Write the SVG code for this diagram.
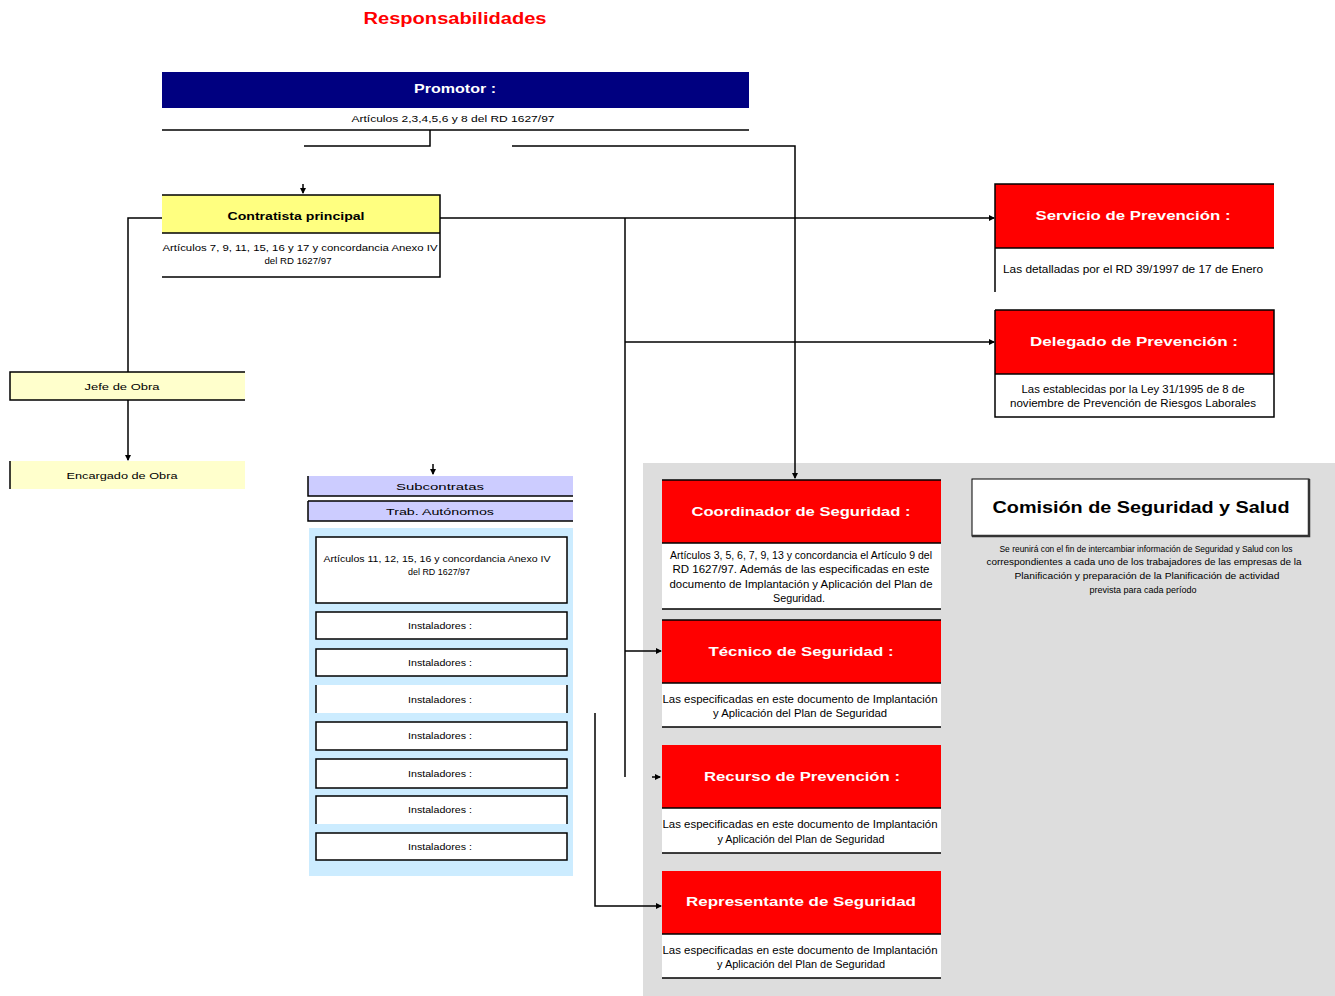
<svg xmlns="http://www.w3.org/2000/svg" width="1335" height="996" viewBox="0 0 1335 996">
  <style>
    text { font-family: "Liberation Sans", Arial, sans-serif; }
    .title { font-size: 16px; font-weight: bold; fill: #FF0000; text-anchor: middle; }
    .hdr { font-size: 13px; font-weight: bold; fill: #FFFFFF; text-anchor: middle; }
    .hdrk { font-size: 11px; font-weight: bold; fill: #000000; text-anchor: middle; }
    .body { font-size: 10px; fill: #000000; text-anchor: middle; }
    .small { font-size: 9.5px; fill: #000000; text-anchor: middle; }
    .red { fill: #FF0000; }
    .line { stroke: #000000; stroke-width: 1.5; fill: none; }
    .conn { stroke: #000000; stroke-width: 1.5; fill: none; }
  </style>
  <defs>
    <marker id="arrow" markerWidth="6" markerHeight="6" refX="5" refY="3" orient="auto" markerUnits="userSpaceOnUse">
      <path d="M0,0 L6,3 L0,6 z" fill="#000000"/>
    </marker>
  </defs>

  <rect x="0" y="0" width="1335" height="996" fill="#FFFFFF"/>

  <!-- grey area holding the site safety roles -->
  <rect x="643" y="463" width="692" height="533" fill="#DDDDDD"/>

  <text class="title" x="455" y="24" textLength="183" lengthAdjust="spacingAndGlyphs">Responsabilidades</text>

  <!-- connectors -->
  <g id="connectors">
    <path class="conn" d="M430,130 V146 H304"/>
    <path class="conn" d="M303,184 V193" marker-end="url(#arrow)"/>
    <path class="conn" d="M512,146 H795 V478" marker-end="url(#arrow)"/>
    <path class="conn" d="M440,218 H994" marker-end="url(#arrow)"/>
    <path class="conn" d="M625,218 V777"/>
    <path class="conn" d="M625,342 H994" marker-end="url(#arrow)"/>
    <path class="conn" d="M625,651 H661" marker-end="url(#arrow)"/>
    <path class="conn" d="M652,777 H660" marker-end="url(#arrow)"/>
    <path class="conn" d="M162,218 H128 V372"/>
    <path class="conn" d="M128,400 V460" marker-end="url(#arrow)"/>
    <path class="conn" d="M433,464 V474" marker-end="url(#arrow)"/>
    <path class="conn" d="M595,713 V906 H661" marker-end="url(#arrow)"/>
  </g>

  <!-- Promotor -->
  <g id="promotor">
    <rect x="162" y="72" width="587" height="36" fill="#000080"/>
    <text class="hdr" x="455" y="93" textLength="82" lengthAdjust="spacingAndGlyphs">Promotor :</text>
    <text class="small" x="453" y="122" textLength="203" lengthAdjust="spacingAndGlyphs">Artículos 2,3,4,5,6 y 8 del RD 1627/97</text>
    <line class="line" x1="162" y1="130" x2="749" y2="130"/>
  </g>

  <!-- Contratista principal -->
  <g id="contratista">
    <rect x="162" y="195" width="278" height="38" fill="#FFFF80"/>
    <path class="line" d="M162,195 H440 V277 H162"/>
    <line class="line" x1="162" y1="233" x2="440" y2="233"/>
    <text class="hdrk" x="296" y="220" textLength="137" lengthAdjust="spacingAndGlyphs">Contratista principal</text>
    <text class="small" x="300" y="251" textLength="275" lengthAdjust="spacingAndGlyphs">Artículos 7, 9, 11, 15, 16 y 17 y concordancia Anexo IV</text>
    <text class="small" x="298" y="264" textLength="67" lengthAdjust="spacingAndGlyphs">del RD 1627/97</text>
  </g>

  <!-- Jefe de Obra -->
  <g id="jefe-obra">
    <rect x="10" y="372" width="235" height="28" fill="#FFFFCC"/>
    <path class="line" d="M245,372 H10 V400 H245"/>
    <text class="small" x="122" y="390" textLength="75" lengthAdjust="spacingAndGlyphs">Jefe de Obra</text>
  </g>

  <!-- Encargado de Obra -->
  <g id="encargado-obra">
    <rect x="10" y="461" width="235" height="28" fill="#FFFFCC"/>
    <line class="line" x1="10" y1="461" x2="10" y2="489"/>
    <text class="small" x="122" y="479" textLength="111" lengthAdjust="spacingAndGlyphs">Encargado de Obra</text>
  </g>

  <!-- Servicio de Prevención -->
  <g id="servicio-prevencion">
    <rect x="995" y="184" width="279" height="64" class="red"/>
    <path class="line" d="M995,292 V184 H1274"/>
    <line class="line" x1="995" y1="248" x2="1274" y2="248"/>
    <text class="hdr" x="1133" y="220" textLength="195" lengthAdjust="spacingAndGlyphs">Servicio de Prevención :</text>
    <text class="body" x="1133" y="273" textLength="260" lengthAdjust="spacingAndGlyphs">Las detalladas por el RD 39/1997 de 17 de Enero</text>
  </g>

  <!-- Delegado de Prevención -->
  <g id="delegado-prevencion">
    <rect x="995" y="310" width="279" height="64" class="red"/>
    <path class="line" d="M995,310 H1274 V417 H995 V310"/>
    <line class="line" x1="995" y1="374" x2="1274" y2="374"/>
    <text class="hdr" x="1134" y="346" textLength="208" lengthAdjust="spacingAndGlyphs">Delegado de Prevención :</text>
    <text class="body" x="1133" y="393" textLength="223" lengthAdjust="spacingAndGlyphs">Las establecidas por la Ley 31/1995 de 8 de</text>
    <text class="body" x="1133" y="407" textLength="246" lengthAdjust="spacingAndGlyphs">noviembre de Prevención de Riesgos Laborales</text>
  </g>

  <!-- Subcontratas / autónomos -->
  <g id="subcontratas">
    <rect x="308" y="476" width="265" height="20" fill="#CCCCFF"/>
    <path class="line" d="M308,476 V496 H573"/>
    <text class="small" x="440" y="490" textLength="88" lengthAdjust="spacingAndGlyphs">Subcontratas</text>
  </g>
  <g id="autonomos">
    <rect x="308" y="501" width="265" height="20" fill="#CCCCFF"/>
    <path class="line" d="M308,501 H573 M308,501 V521 H573"/>
    <text class="small" x="440" y="515" textLength="108" lengthAdjust="spacingAndGlyphs">Trab. Autónomos</text>
  </g>

  <!-- Instaladores -->
  <g id="instaladores">
    <rect x="309" y="528" width="264" height="348" fill="#CCECFF"/>
    <rect x="316" y="537" width="251" height="66" fill="#FFFFFF" stroke="#000000" stroke-width="1.5"/>
    <text class="small" x="437" y="562" textLength="227" lengthAdjust="spacingAndGlyphs">Artículos 11, 12, 15, 16 y concordancia Anexo IV</text>
    <text class="small" x="439" y="575" textLength="62" lengthAdjust="spacingAndGlyphs">del RD 1627/97</text>
    <rect x="316" y="612" width="251" height="27" fill="#FFFFFF" stroke="#000000" stroke-width="1.5"/>
    <text class="small" x="440" y="629" textLength="64" lengthAdjust="spacingAndGlyphs">Instaladores :</text>
    <rect x="316" y="649" width="251" height="27" fill="#FFFFFF" stroke="#000000" stroke-width="1.5"/>
    <text class="small" x="440" y="666" textLength="64" lengthAdjust="spacingAndGlyphs">Instaladores :</text>
    <rect x="316" y="685" width="251" height="28" fill="#FFFFFF"/>
    <path class="line" d="M316,685 V713 M567,685 V713"/>
    <text class="small" x="440" y="703" textLength="64" lengthAdjust="spacingAndGlyphs">Instaladores :</text>
    <rect x="316" y="722" width="251" height="28" fill="#FFFFFF" stroke="#000000" stroke-width="1.5"/>
    <text class="small" x="440" y="739" textLength="64" lengthAdjust="spacingAndGlyphs">Instaladores :</text>
    <rect x="316" y="759" width="251" height="29" fill="#FFFFFF" stroke="#000000" stroke-width="1.5"/>
    <text class="small" x="440" y="777" textLength="64" lengthAdjust="spacingAndGlyphs">Instaladores :</text>
    <rect x="316" y="796" width="251" height="28" fill="#FFFFFF"/>
    <path class="line" d="M316,824 V796 H567 V824"/>
    <text class="small" x="440" y="813" textLength="64" lengthAdjust="spacingAndGlyphs">Instaladores :</text>
    <rect x="316" y="833" width="251" height="27" fill="#FFFFFF" stroke="#000000" stroke-width="1.5"/>
    <text class="small" x="440" y="850" textLength="64" lengthAdjust="spacingAndGlyphs">Instaladores :</text>
  </g>

  <!-- Coordinador de Seguridad -->
  <g id="coordinador">
    <rect x="662" y="480" width="279" height="129" fill="#FFFFFF"/>
    <rect x="662" y="480" width="279" height="63" class="red"/>
    <path class="line" d="M662,480 H941 M662,543 H941 M662,609 H941"/>
    <text class="hdr" x="801" y="516" textLength="219" lengthAdjust="spacingAndGlyphs">Coordinador de Seguridad :</text>
    <text class="body" x="801" y="559" textLength="262" lengthAdjust="spacingAndGlyphs">Artículos 3, 5, 6, 7, 9, 13 y concordancia el Artículo 9 del</text>
    <text class="body" x="801" y="573" textLength="257" lengthAdjust="spacingAndGlyphs">RD 1627/97. Además de las especificadas en este</text>
    <text class="body" x="801" y="588" textLength="263" lengthAdjust="spacingAndGlyphs">documento de Implantación y Aplicación del Plan de</text>
    <text class="body" x="799" y="602" textLength="52" lengthAdjust="spacingAndGlyphs">Seguridad.</text>
  </g>

  <!-- Comisión de Seguridad y Salud -->
  <g id="comision">
    <rect x="972" y="479" width="337" height="57" fill="#FFFFFF" stroke="#000000" stroke-width="1"/>
    <path d="M1309,479 V536 H972" stroke="#333333" stroke-width="2.5" fill="none"/>
    <text x="1141" y="513" text-anchor="middle" font-size="16" font-weight="bold" fill="#000000" textLength="297" lengthAdjust="spacingAndGlyphs">Comisión de Seguridad y Salud</text>
    <text class="small" x="1146" y="552" textLength="293" lengthAdjust="spacingAndGlyphs">Se reunirá con el fin de intercambiar información de Seguridad y Salud con los</text>
    <text class="small" x="1144" y="565" textLength="315" lengthAdjust="spacingAndGlyphs">correspondientes a cada uno de los trabajadores de las empresas de la</text>
    <text class="small" x="1147" y="579" textLength="265" lengthAdjust="spacingAndGlyphs">Planificación y preparación de la Planificación de actividad</text>
    <text class="small" x="1143" y="593" textLength="107" lengthAdjust="spacingAndGlyphs">prevista para cada período</text>
  </g>

  <!-- Técnico de Seguridad -->
  <g id="tecnico">
    <rect x="662" y="620" width="279" height="107" fill="#FFFFFF"/>
    <rect x="662" y="620" width="279" height="63" class="red"/>
    <path class="line" d="M662,620 H941 M662,683 H941 M662,727 H941"/>
    <text class="hdr" x="801" y="656" textLength="185" lengthAdjust="spacingAndGlyphs">Técnico de Seguridad :</text>
    <text class="body" x="800" y="703" textLength="275" lengthAdjust="spacingAndGlyphs">Las especificadas en este documento de Implantación</text>
    <text class="body" x="800" y="717" textLength="174" lengthAdjust="spacingAndGlyphs">y Aplicación del Plan de Seguridad</text>
  </g>

  <!-- Recurso de Prevención -->
  <g id="recurso">
    <rect x="662" y="745" width="279" height="108" fill="#FFFFFF"/>
    <rect x="662" y="745" width="279" height="63" class="red"/>
    <path class="line" d="M662,808 H941 M662,853 H941"/>
    <text class="hdr" x="802" y="781" textLength="196" lengthAdjust="spacingAndGlyphs">Recurso de Prevención :</text>
    <text class="body" x="800" y="828" textLength="275" lengthAdjust="spacingAndGlyphs">Las especificadas en este documento de Implantación</text>
    <text class="body" x="801" y="843" textLength="167" lengthAdjust="spacingAndGlyphs">y Aplicación del Plan de Seguridad</text>
  </g>

  <!-- Representante de Seguridad -->
  <g id="representante">
    <rect x="662" y="871" width="279" height="107" fill="#FFFFFF"/>
    <rect x="662" y="871" width="279" height="63" class="red"/>
    <path class="line" d="M662,934 H941 M662,978 H941"/>
    <text class="hdr" x="801" y="906" textLength="230" lengthAdjust="spacingAndGlyphs">Representante de Seguridad</text>
    <text class="body" x="800" y="954" textLength="275" lengthAdjust="spacingAndGlyphs">Las especificadas en este documento de Implantación</text>
    <text class="body" x="801" y="968" textLength="168" lengthAdjust="spacingAndGlyphs">y Aplicación del Plan de Seguridad</text>
  </g>
</svg>
